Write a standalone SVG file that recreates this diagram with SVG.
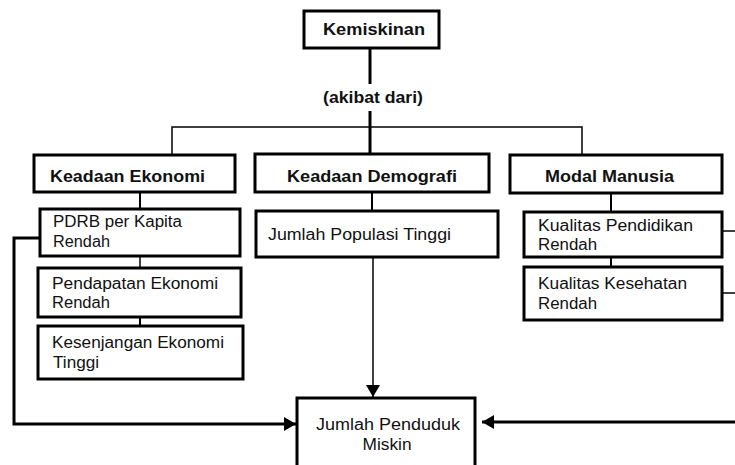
<svg xmlns="http://www.w3.org/2000/svg" width="735" height="465" viewBox="0 0 735 465">
<style>
.box{fill:#fff;stroke:#000;stroke-width:3}
.h{font-family:"Liberation Sans",Arial,sans-serif;font-size:17px;font-weight:bold;fill:#111}
.t{font-family:"Liberation Sans",Arial,sans-serif;font-size:16px;fill:#111}
.thin{stroke:#000;stroke-width:1.5;fill:none}
.mid{stroke:#000;stroke-width:2;fill:none}
.thick{stroke:#000;stroke-width:3;fill:none}
</style>
<defs>
<marker id="arr" markerUnits="userSpaceOnUse" markerWidth="14" markerHeight="14" refX="12" refY="7" orient="auto">
<path d="M0,0 L12,7 L0,14 Z" fill="#000"/>
</marker>
</defs>
<rect width="735" height="465" fill="#fff"/>
<g id="connectors">
<line class="thick" x1="370" y1="48" x2="370" y2="84"/>
<line class="thick" x1="370" y1="111" x2="370" y2="155"/>
<polyline class="thin" points="172,155 172,127 582,127 582,155"/>
<line class="mid" x1="140" y1="192" x2="140" y2="209"/>
<line class="thin" x1="140" y1="256" x2="140" y2="268"/>
<line class="mid" x1="140" y1="317" x2="140" y2="326"/>
<line class="mid" x1="372" y1="192" x2="372" y2="211"/>
<line class="thin" x1="373" y1="257" x2="373" y2="397" marker-end="url(#arr)"/>
<line class="mid" x1="611" y1="193" x2="611" y2="212"/>
<line class="mid" x1="611" y1="257" x2="611" y2="267"/>
<line class="thin" x1="722" y1="231" x2="735" y2="231"/>
<line class="thin" x1="722" y1="293" x2="735" y2="293"/>
<polyline class="thick" points="40,238 14,238 14,424 296,424" marker-end="url(#arr)"/>
<line class="thick" x1="735" y1="422" x2="482" y2="422" marker-end="url(#arr)"/>
</g>
<g id="kemiskinan">
<rect class="box" x="304" y="11" width="135" height="37"/>
<text class="h" x="374" y="35" text-anchor="middle" textLength="102" lengthAdjust="spacingAndGlyphs">Kemiskinan</text>
</g>
<g id="akibat-dari">
<text class="h" x="373" y="103" text-anchor="middle" font-size="15" textLength="100" lengthAdjust="spacingAndGlyphs">(akibat dari)</text>
</g>
<g id="keadaan-ekonomi">
<rect class="box" x="34" y="155" width="201" height="37"/>
<text class="h" x="50" y="182" textLength="155" lengthAdjust="spacingAndGlyphs">Keadaan Ekonomi</text>
</g>
<g id="keadaan-demografi">
<rect class="box" x="255" y="154" width="234" height="38"/>
<text class="h" x="287" y="182" textLength="170" lengthAdjust="spacingAndGlyphs">Keadaan Demografi</text>
</g>
<g id="modal-manusia">
<rect class="box" x="510" y="155" width="212" height="38"/>
<text class="h" x="545" y="182" textLength="129" lengthAdjust="spacingAndGlyphs">Modal Manusia</text>
</g>
<g id="pdrb">
<rect class="box" x="40" y="209" width="200" height="47"/>
<text class="t" x="53" y="227" textLength="129" lengthAdjust="spacingAndGlyphs">PDRB per Kapita</text>
<text class="t" x="53" y="247" textLength="57" lengthAdjust="spacingAndGlyphs">Rendah</text>
</g>
<g id="pendapatan">
<rect class="box" x="38" y="268" width="203" height="49"/>
<text class="t" x="52" y="289" textLength="166" lengthAdjust="spacingAndGlyphs">Pendapatan Ekonomi</text>
<text class="t" x="52" y="308" textLength="58" lengthAdjust="spacingAndGlyphs">Rendah</text>
</g>
<g id="kesenjangan">
<rect class="box" x="38" y="326" width="205" height="53"/>
<text class="t" x="52" y="348" textLength="172" lengthAdjust="spacingAndGlyphs">Kesenjangan Ekonomi</text>
<text class="t" x="53" y="368" textLength="46" lengthAdjust="spacingAndGlyphs">Tinggi</text>
</g>
<g id="jumlah-populasi">
<rect class="box" x="256" y="211" width="242" height="46"/>
<text class="t" x="268" y="240" textLength="183" lengthAdjust="spacingAndGlyphs">Jumlah Populasi Tinggi</text>
</g>
<g id="kualitas-pendidikan">
<rect class="box" x="524" y="212" width="198" height="45"/>
<text class="t" x="538" y="231" textLength="155" lengthAdjust="spacingAndGlyphs">Kualitas Pendidikan</text>
<text class="t" x="538" y="250" textLength="59" lengthAdjust="spacingAndGlyphs">Rendah</text>
</g>
<g id="kualitas-kesehatan">
<rect class="box" x="524" y="267" width="198" height="53"/>
<text class="t" x="538" y="289" textLength="149" lengthAdjust="spacingAndGlyphs">Kualitas Kesehatan</text>
<text class="t" x="538" y="309" textLength="59" lengthAdjust="spacingAndGlyphs">Rendah</text>
</g>
<g id="jumlah-penduduk-miskin">
<rect class="box" x="297" y="398" width="178" height="80"/>
<text class="t" x="388" y="430" text-anchor="middle" textLength="144" lengthAdjust="spacingAndGlyphs">Jumlah Penduduk</text>
<text class="t" x="387" y="450" text-anchor="middle" textLength="49" lengthAdjust="spacingAndGlyphs">Miskin</text>
</g>
</svg>
